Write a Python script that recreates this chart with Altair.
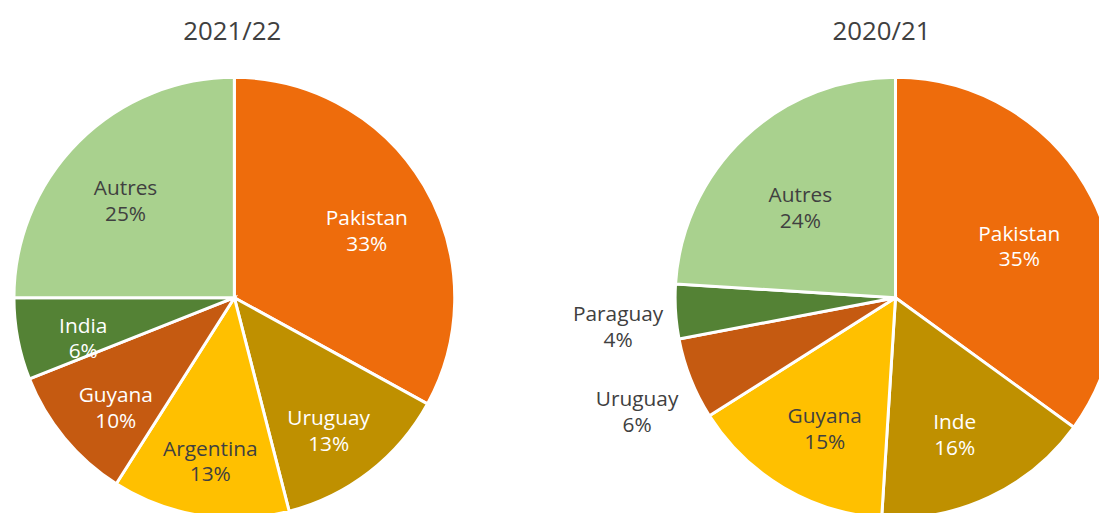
import altair as alt
import pandas as pd

# --- data ---
title_left = "2021/22"
title_right = "2020/21"

cats_2122 = ["Pakistan", "Uruguay", "Argentina", "Guyana", "India", "Autres"]
vals_2122 = [33, 13, 13, 10, 6, 25]

cats_2021 = ["Pakistan", "Inde", "Guyana", "Uruguay", "Paraguay", "Autres"]
vals_2021 = [35, 16, 15, 6, 4, 24]

outside_2021 = ["Uruguay", "Paraguay"]

# --- styles ---
palette = ["#EE6C0C", "#BF9000", "#FFC000", "#C55A11", "#548235", "#A9D18E"]
label_palette = ["#FFFFFF", "#FFFFFF", "#404040", "#FFFFFF", "#FFFFFF", "#404040"]
FONT = "Open Sans"
R = 222


def frame(cats, vals, r_in, outside=()):
    df = pd.DataFrame({"cat": cats, "val": vals})
    df["order"] = range(len(cats))
    df["label"] = [f"{c}\n{v}%" for c, v in zip(cats, vals)]
    df["lcol"] = ["#404040" if c in outside else label_palette[i] for i, c in enumerate(cats)]
    df["lr"] = [280 if c in outside else r_in for c in cats]
    return df


def pie(df, cx, cy, title, tx):
    arcs = alt.Chart(df).mark_arc(radius=R, stroke="white", strokeWidth=3).encode(
        theta=alt.Theta("val:Q", stack=True),
        order=alt.Order("order:Q"),
        x=alt.value(cx),
        y=alt.value(cy),
        color=alt.Color("cat:N", scale=alt.Scale(domain=list(df["cat"]), range=palette), legend=None),
    )
    labels = alt.Chart(df).transform_window(
        cum="sum(val)", sort=[alt.SortField("order")], frame=[None, 0]
    ).transform_joinaggregate(total="sum(val)").transform_calculate(
        frac="(datum.cum - datum.val / 2) / datum.total"
    ).mark_text(font=FONT, fontSize=21, lineBreak="\n", lineHeight=26, baseline="middle").encode(
        theta=alt.Theta("frac:Q", scale=alt.Scale(domain=[0, 1]), stack=False),
        x=alt.value(cx),
        y=alt.value(cy),
        radius=alt.Radius("lr:Q", scale=None),
        text="label:N",
        color=alt.Color("lcol:N", scale=None),
    )
    ttl = alt.Chart(pd.DataFrame({"t": [title]})).mark_text(
        font=FONT, fontSize=26, color="#404040", baseline="middle"
    ).encode(x=alt.value(tx), y=alt.value(cy - 268), text="t:N")
    return alt.layer(arcs, labels, ttl).resolve_scale(theta="independent", color="independent")


left = pie(frame(cats_2122, vals_2122, 155), 228, 290, title_left, 226)
right = pie(frame(cats_2021, vals_2021, 140, outside_2021), 894, 290, title_right, 880)

chart = alt.layer(left, right).resolve_scale(
    theta="independent", color="independent", radius="independent"
).properties(
    width=1099, height=505, padding=0, autosize=alt.AutoSizeParams(type="none")
).configure_view(stroke=None)

chart.save("out.html", embed_options={"renderer": "svg", "actions": False})
